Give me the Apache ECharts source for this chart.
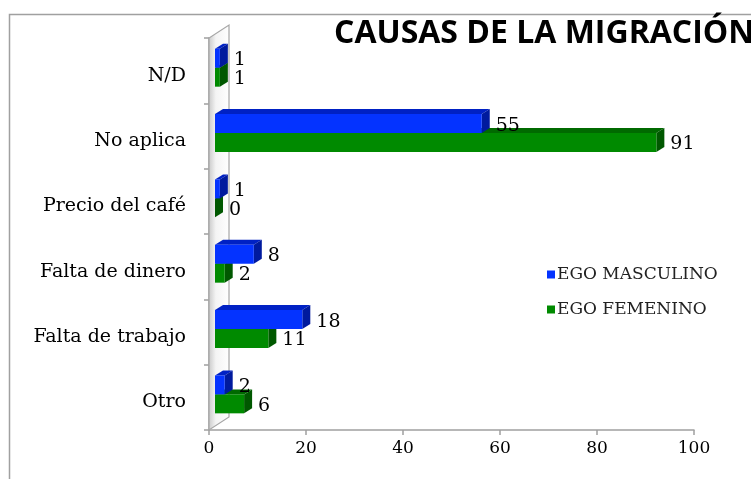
<!DOCTYPE html>
<html>
<head>
<meta charset="utf-8">
<script src="https://cdn.jsdelivr.net/npm/echarts@6/dist/echarts.min.js"></script>
<style>html,body{margin:0;padding:0;background:#fff}#c{width:751px;height:479px}</style>
</head>
<body>
<div id="c"></div>
<script>
// ---- data ----
const categories = ['N/D', 'No aplica', 'Precio del café', 'Falta de dinero', 'Falta de trabajo', 'Otro'];
const seriesNames = ['EGO MASCULINO', 'EGO FEMENINO'];
const egoMasculino = [1, 55, 1, 8, 18, 2];
const egoFemenino = [1, 91, 0, 2, 11, 6];
const xTicks = [0, 20, 40, 60, 80, 100];
const titleText = 'CAUSAS DE LA MIGRACIÓN';

// ---- style ----
const SERIF = 'DejaVu Serif';
const palette = [
  { front: '#0433FF', top: '#0021C4', side: '#001A9E' },
  { front: '#008A00', top: '#006A00', side: '#005800' }
];
const DX = 8, DY = 5, WALL = 6;

function makeRenderBar(s) {
  return function (params, api) {
    const v = api.value(0);
    const cat = api.value(1);
    const c = palette[s];
    const p0 = api.coord([0, cat]);
    const p1 = api.coord([v, cat]);
    const band = api.size([0, 1])[1];
    const barH = band * 0.29;
    const mid = p0[1] - band * 0.045;
    const top = s === 0 ? mid - barH : mid;
    const bot = top + barH;
    const xl = p0[0] + WALL;
    const xr = p1[0] + WALL;
    return {
      type: 'group',
      children: [
        { type: 'polygon', shape: { points: [[xl, top], [xl + DX, top - DY], [xr + DX, top - DY], [xr, top]] }, style: { fill: c.top } },
        { type: 'polygon', shape: { points: [[xr, top], [xr + DX, top - DY], [xr + DX, bot - DY], [xr, bot]] }, style: { fill: c.side } },
        { type: 'rect', shape: { x: xl, y: top, width: Math.max(xr - xl, 0), height: barH }, style: { fill: c.front } },
        { type: 'text', style: { text: String(v), x: xr + DX + 6, y: (top + bot) / 2 + 2, verticalAlign: 'middle', align: 'left', font: '19px "' + SERIF + '"', fill: '#000' } }
      ]
    };
  };
}

function renderWall(params, api) {
  const cs = params.coordSys;
  const x0 = api.coord([0, 0])[0];
  const t = cs.y, b = cs.y + cs.height;
  return {
    type: 'polygon',
    shape: { points: [[x0, b], [x0, t], [x0 + 20, t - 13], [x0 + 20, b - 13]] },
    style: {
      fill: { type: 'linear', x: 0, y: 0, x2: 1, y2: 0, colorStops: [
        { offset: 0, color: '#c8c8c8' }, { offset: 0.35, color: '#f4f4f4' }, { offset: 1, color: '#ffffff' } ] },
      stroke: '#a6a6a6', lineWidth: 1.2
    }
  };
}

const chart = echarts.init(document.getElementById('c'), null, { renderer: 'canvas' });
chart.setOption({
  backgroundColor: '#fff',
  animation: false,
  title: {
    text: titleText, left: 329, top: 13,
    textStyle: { fontFamily: 'Open Sans', fontWeight: 'bold', fontSize: 32, color: '#000' }
  },
  graphic: [{
    type: 'rect', left: 7, top: 12, silent: true, z: -10,
    shape: { width: 900, height: 600 },
    style: { fill: 'none', stroke: '#a0a0a0', lineWidth: 1.5 }
  }],
  legend: {
    data: seriesNames, orient: 'vertical', left: 542, top: 261,
    icon: 'rect', itemWidth: 8, itemHeight: 8, itemGap: 18,
    textStyle: { fontFamily: SERIF, fontSize: 17, color: '#222', padding: [0, 0, 0, -3] }
  },
  grid: { left: 209, right: 57, top: 38, bottom: 49, containLabel: false },
  xAxis: {
    type: 'value', min: xTicks[0], max: xTicks[xTicks.length - 1], interval: 20,
    splitLine: { show: false },
    axisLine: { show: true, lineStyle: { color: '#a0a0a0', width: 1.5 } },
    axisTick: { show: true, length: 5, lineStyle: { color: '#a0a0a0', width: 1.5 } },
    axisLabel: { margin: 10, fontFamily: SERIF, fontSize: 17, color: '#000' }
  },
  yAxis: {
    type: 'category', data: categories, inverse: true,
    axisLine: { show: true, lineStyle: { color: '#a0a0a0', width: 1.5 } },
    axisTick: { show: true, length: 5, lineStyle: { color: '#a0a0a0', width: 1.5 } },
    axisLabel: {
      margin: 23, color: '#000',
      formatter: function (v) { return '{a|' + v + '}'; },
      rich: { a: { fontFamily: SERIF, fontSize: 19, color: '#000', padding: [10, 0, 0, 0] } }
    }
  },
  series: [
    { type: 'custom', name: '_wall', silent: true, z: 1, renderItem: renderWall, data: [[0, 0]], encode: { x: 0, y: 1 } },
    { type: 'custom', name: seriesNames[0], z: 4, renderItem: makeRenderBar(0), itemStyle: { color: palette[0].front },
      data: egoMasculino.map((v, i) => [v, i]), encode: { x: 0, y: 1 } },
    { type: 'custom', name: seriesNames[1], z: 3, renderItem: makeRenderBar(1), itemStyle: { color: palette[1].front },
      data: egoFemenino.map((v, i) => [v, i]), encode: { x: 0, y: 1 } }
  ]
});
</script>
</body>
</html>
